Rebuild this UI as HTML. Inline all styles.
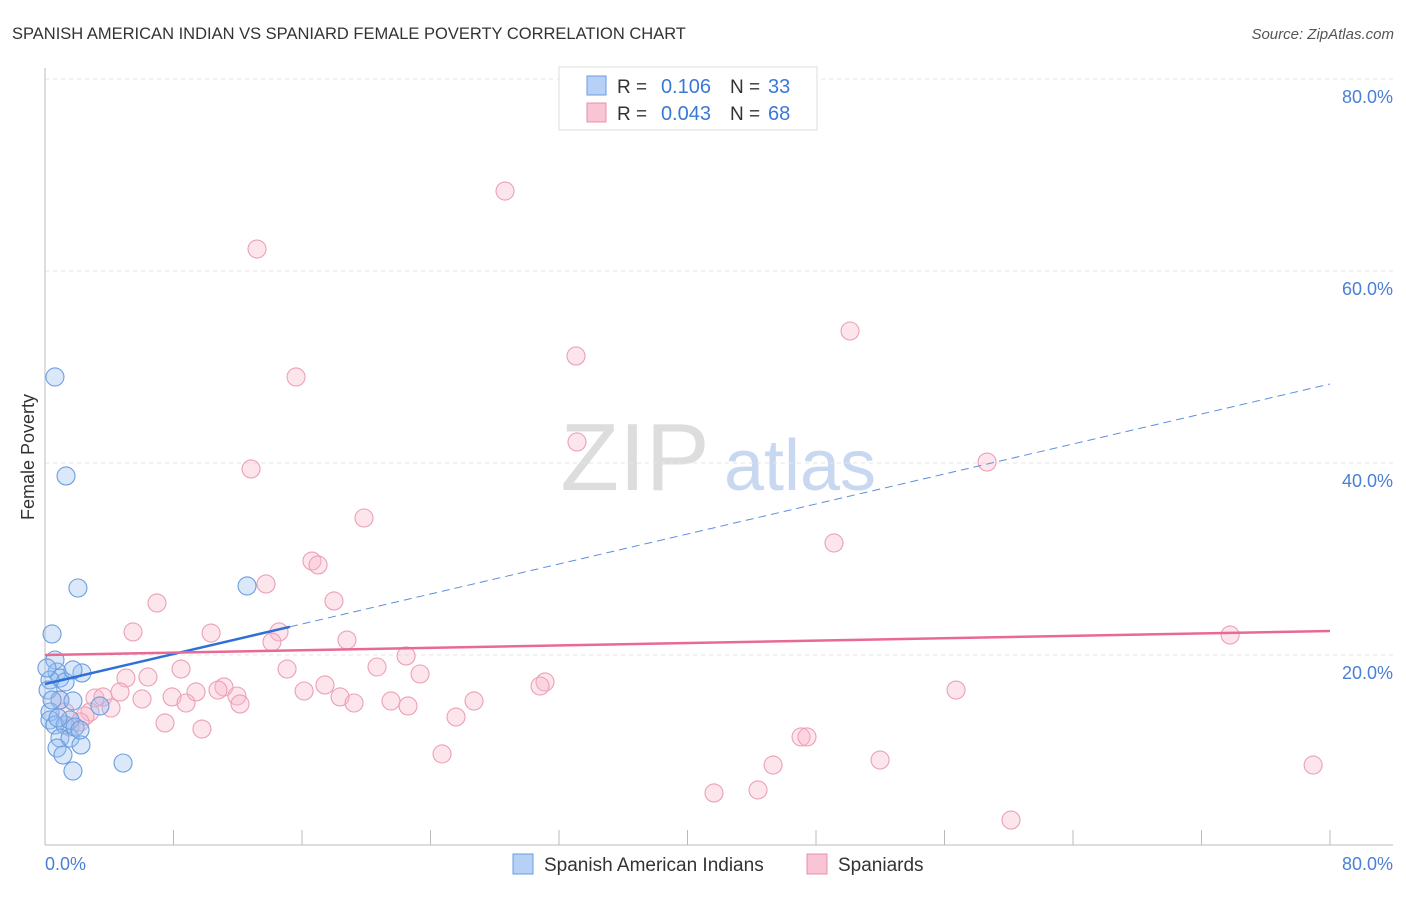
<!DOCTYPE html>
<html><head><meta charset="utf-8"><style>
body{margin:0;background:#fff;font-family:"Liberation Sans",sans-serif}
svg text{font-family:"Liberation Sans",sans-serif}
</style></head><body>
<svg width="1406" height="892" xmlns="http://www.w3.org/2000/svg">
<text x="12" y="39" font-size="16.5" fill="#333">SPANISH AMERICAN INDIAN VS SPANIARD FEMALE POVERTY CORRELATION CHART</text>
<text x="1394" y="39" font-size="15" fill="#555" font-style="italic" text-anchor="end">Source: ZipAtlas.com</text>
<text x="635" y="490" font-size="96" fill="#ddd" font-family="Liberation Serif" text-anchor="middle">ZIP</text>
<text x="800" y="490" font-size="72" fill="#c8d8f0" text-anchor="middle">atlas</text>
<g id="grid"></g>
<line x1="45" y1="68" x2="45" y2="845" stroke="#bbb"/>
<line x1="45" y1="845" x2="1393" y2="845" stroke="#bbb"/>
<text x="34" y="457" font-size="18" fill="#333" text-anchor="middle" transform="rotate(-90 34 457)">Female Poverty</text>
<text x="45" y="870" font-size="18" fill="#4a7fd4">0.0%</text>
<text x="1393" y="870" font-size="18" fill="#4a7fd4" text-anchor="end">80.0%</text>
<g id="marks"></g>
<g>
<rect x="559" y="67" width="258" height="63" fill="#fff" stroke="#ddd"/>
<rect x="587" y="76" width="19" height="19" fill="#b7d0f5" stroke="#6a9ee0"/>
<rect x="587" y="103" width="19" height="19" fill="#f9c4d4" stroke="#e890aa"/>
<text x="617" y="93" font-size="19" fill="#333">R =</text>
<text x="711" y="93" font-size="20" fill="#3a78d8" text-anchor="end">0.106</text>
<text x="730" y="93" font-size="19" fill="#333">N =</text>
<text x="768" y="93" font-size="20" fill="#3a78d8">33</text>
<text x="617" y="120" font-size="19" fill="#333">R =</text>
<text x="711" y="120" font-size="20" fill="#3a78d8" text-anchor="end">0.043</text>
<text x="730" y="120" font-size="19" fill="#333">N =</text>
<text x="768" y="120" font-size="20" fill="#3a78d8">68</text>
</g>
<g>
<rect x="513" y="854" width="20" height="20" fill="#b7d0f5" stroke="#6a9ee0"/>
<text x="544" y="871" font-size="19" fill="#333">Spanish American Indians</text>
<rect x="807" y="854" width="20" height="20" fill="#f9c4d4" stroke="#e890aa"/>
<text x="838" y="871" font-size="19" fill="#333">Spaniards</text>
</g>
</svg>
<script>
const yTicks=[20,40,60,80];
const blueX=[0.62,1.31,2.05,0.44,0.62,0.75,0.93,1.25,2.30,1.74,0.31,0.19,0.93,1.74,0.31,0.31,0.62,1.25,1.56,0.93,1.56,0.75,1.12,2.24,1.74,4.86,3.42,12.58,0.12,0.44,0.81,1.87,2.18];
const blueY=[48.96,38.65,26.98,22.19,19.48,18.23,17.60,17.19,18.13,18.44,17.40,16.35,15.31,15.21,14.06,13.23,12.71,12.71,13.23,11.35,11.35,10.31,9.58,10.63,7.92,8.75,14.69,27.19,18.65,15.31,13.44,12.50,12.19];
const pinkX=[28.64,13.20,33.06,50.12,15.63,33.12,12.83,58.65,19.86,49.12,16.62,17.00,13.76,6.97,17.99,5.48,10.34,14.57,14.13,18.80,73.78,22.48,8.47,15.07,20.67,23.35,5.04,6.41,11.14,10.77,9.40,17.43,31.13,30.82,56.72,16.13,4.67,3.11,3.61,7.91,18.37,11.95,8.78,12.14,6.04,19.24,21.54,26.71,22.60,4.11,2.80,2.49,2.18,7.47,25.59,9.77,24.72,47.07,47.44,51.99,45.33,78.95,44.39,41.65,60.14,0.93,1.56,1.25];
const pinkY=[68.33,62.29,51.15,53.75,48.96,42.19,39.38,40.10,34.27,31.67,29.79,29.38,27.40,25.42,25.63,22.40,22.29,22.40,21.35,21.56,22.08,19.90,18.54,18.54,18.75,18.02,17.60,17.71,16.67,16.35,16.15,16.88,17.19,16.77,16.35,16.25,16.15,15.52,15.63,15.63,15.63,15.73,15.00,14.90,15.42,15.00,15.21,15.21,14.69,14.48,14.06,13.65,13.02,12.92,13.54,12.29,9.69,11.46,11.46,9.06,8.54,8.54,5.94,5.63,2.81,15.31,12.50,14.06];
const blueFit=[16.98,48.23];
const pinkFit=[20.0,22.5];
const blueSolidEnd=15.25;
const NS="http://www.w3.org/2000/svg";
const sx=v=>45+v*1285/80, sy=v=>847-v*9.6;
const grid=document.getElementById('grid'), marks=document.getElementById('marks');
function mk(tag,attrs,parent){const e=document.createElementNS(NS,tag);for(const k in attrs)e.setAttribute(k,attrs[k]);parent.appendChild(e);return e;}
yTicks.forEach(t=>{
 const l=mk('line',{x1:45,x2:1393,y1:sy(t),y2:sy(t),stroke:'#e6e6e6','stroke-dasharray':'4,4'},grid);
 
 
 const tx=mk('text',{x:1393,y:sy(t)+24,'font-size':18,fill:'#4a7fd4','text-anchor':'end'},grid);
 tx.textContent=t.toFixed(1)+'%';
 
 
});
for(let i=0;i<=10;i++){
 const x=45+i*128.5;
 const l=mk('line',{x1:x,x2:x,y1:830,y2:845,stroke:'#bbb'},grid);
 
 
}
pinkX.forEach((v,i)=>{
 const c=mk('circle',{cx:sx(v),cy:sy(pinkY[i]),r:9,fill:'rgba(248,180,200,0.35)',stroke:'#eba0b8','stroke-width':1.1},marks);
 
 
});
blueX.forEach((v,i)=>{
 const c=mk('circle',{cx:sx(v),cy:sy(blueY[i]),r:9,fill:'rgba(150,190,240,0.35)',stroke:'#6a9ee0','stroke-width':1.1},marks);
 
 
});
const by=x=>blueFit[0]+(blueFit[1]-blueFit[0])*x/80;
let l1=mk('line',{x1:sx(0),y1:sy(by(0)),x2:sx(blueSolidEnd),y2:sy(by(blueSolidEnd)),stroke:'#2f6fd6','stroke-width':2.5},marks);


let l2=mk('line',{x1:sx(blueSolidEnd),y1:sy(by(blueSolidEnd)),x2:sx(80),y2:sy(by(80)),stroke:'#5d8fdd','stroke-width':1,'stroke-dasharray':'8,5'},marks);


let l3=mk('line',{x1:sx(0),y1:sy(pinkFit[0]),x2:sx(80),y2:sy(pinkFit[1]),stroke:'#e86a94','stroke-width':2.5},marks);


</script>
</body></html>
